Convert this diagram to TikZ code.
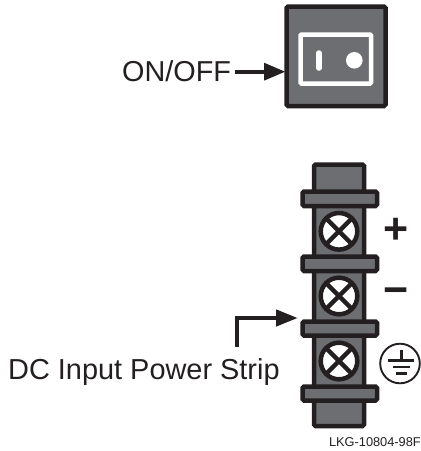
\documentclass[tikz,border=0pt]{standalone}
\usepackage{fontspec}
\setmainfont{Liberation Sans}
\definecolor{ink}{HTML}{231F20}
\definecolor{panel}{HTML}{6D6E71}
\tikzset{
  x=1pt,y=-1pt,
  body/.style={draw=ink,fill=panel,line width=4.5pt,rounded corners=1.5pt},
  screw/.style={circle,draw=ink,fill=white,line width=4.5pt,minimum size=36.6pt,inner sep=0pt,
    path picture={\draw[ink,line width=4.5pt]
      (path picture bounding box.south west)--(path picture bounding box.north east)
      (path picture bounding box.north west)--(path picture bounding box.south east);}},
  lead/.style={draw=ink,line width=4.2pt},
  tiphead/.style={fill=ink,draw=none},
  lab/.style={inner sep=0pt,text=ink,anchor=base west},
}
\begin{document}
\begin{tikzpicture}
\useasboundingbox (0,0) rectangle (421,451);
% switch
\draw[body] (286.5,6.5) rectangle (385.5,106);
\draw[draw=white,line width=4.5pt,rounded corners=1pt] (300.5,34.5) rectangle (371,83.5);
\draw[white,line width=5.5pt,line cap=round] (319,53) -- (319,68);
\fill[white] (354.3,60.3) circle (8.3);
% arrow ON/OFF
\node[lab,font=\fontsize{28.8}{32}\selectfont] (onoff) at (122,81) {ON/OFF};
\coordinate (swtip) at (285,71.7);
\draw[lead] (235,71.7) -- (266,71.7);
\fill[tiphead] (swtip) -- (264,62.7) -- (264,80.7) -- cycle;
% strip
\draw[body] (314,164.5) rectangle (364,426);
\node[screw] (s1) at (339,231.3) {};
\node[screw] (s2) at (339,296) {};
\node[screw] (s3) at (339,361) {};
\draw[body] (302.5,191.5) rectangle (377,206);
\draw[body] (302.5,256.5) rectangle (377,271);
\draw[body] (302.5,321.5) rectangle (377,335.5);
\draw[body] (302.5,386.5) rectangle (377,400.5);
% polarity
\node[inner sep=0pt,text=ink,font=\bfseries\fontsize{43}{45}\selectfont] (plus) at (396.3,231.3) {+};
\node[inner sep=0pt,text=ink,font=\bfseries\fontsize{43}{45}\selectfont] (minus) at (396.3,296) {−};
% ground
\draw[ink,line width=1.9pt] (400,363.5) circle (19.8);
\draw[ink,line width=2.5pt] (401.5,350) -- (401.5,360) (388.3,360.5) -- (414.3,360.5)
  (392.7,367) -- (410,367) (396,373.5) -- (407,373.5);
% DC label
\node[lab,font=\fontsize{28.9}{32}\selectfont] (dc) at (8,379) {DC Input Power Strip};
\coordinate (stip) at (297.3,318);
\draw[lead,line cap=butt] (237.3,346.7) -- (237.3,318) -- (278,318);
\fill[tiphead] (stip) -- (276,309.3) -- (276,326.7) -- cycle;
\node[lab,font=\fontsize{12.8}{15}\selectfont,anchor=base east] (ref) at (421,446) {LKG-10804-98F};
\end{tikzpicture}
\end{document}
